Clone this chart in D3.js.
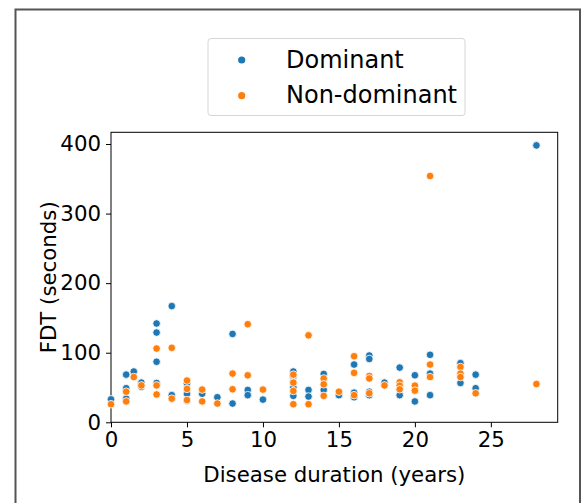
<!DOCTYPE html>
<html>
<head>
<meta charset="utf-8">
<script src="https://cdn.jsdelivr.net/npm/d3@7"></script>
<style>
  html, body { margin: 0; padding: 0; background: #fff; }
  svg { display: block; font-family: "DejaVu Sans", sans-serif; }
</style>
</head>
<body>
<svg id="chart" width="584" height="503"></svg>
<script>
// Disease duration (years) and FDT (seconds) per group
const dominantYears = [0, 1, 1, 1, 1.5, 2, 2, 3, 3, 3, 3, 4, 4, 5, 5, 5, 6, 7, 8, 8, 9, 9, 10,
  12, 12, 12, 12, 12, 13, 13, 14, 14, 15, 16, 16, 16, 17, 17, 17, 17, 18, 19, 19,
  20, 20, 21, 21, 21, 23, 23, 24, 24, 28];
const dominantFDT = [33, 68.5, 49, 34, 73, 57, 51, 142, 129, 87, 56.5, 167, 39, 56, 41, 31, 41, 36, 127, 27, 46.5, 39, 32.6,
  73, 66, 58, 50, 38, 46.5, 37, 69.5, 46.5, 39, 83, 42.6, 36, 96, 91, 44, 39, 57, 78.6, 39,
  67.6, 30, 97, 70, 39, 85, 56.5, 68.5, 49, 398];

const nonDominantYears = [0, 1, 1, 1.5, 2, 3, 3, 3, 4, 4, 5, 5, 5, 6, 6, 7, 8, 8, 9, 9, 10,
  12, 12, 12, 12, 13, 13, 14, 14, 14, 15, 16, 16, 16, 17, 17, 17, 18, 19, 19, 19,
  20, 20, 21, 21, 21, 23, 23, 23, 24, 28];
const nonDominantFDT = [26, 44, 30, 65, 53, 106, 53, 40, 107, 34, 60, 48, 32, 47, 30, 27, 70, 47.5, 141, 67.5, 47,
  68.5, 57, 45, 26, 125, 26, 63, 54.6, 38, 44, 95, 71, 39, 66.6, 63, 41.7, 53, 57.5, 52.7, 47.4,
  52.7, 45.5, 354, 83, 65, 79.5, 70, 65, 41.7, 55];

const groups = ["Dominant", "Non-dominant"];
const groupColors = ["#1f77b4", "#ff7f0e"];
const xTicks = [0, 5, 10, 15, 20, 25];
const yTicks = [0, 100, 200, 300, 400];

const svg = d3.select("#chart");
const fontSize = 21.3;

// outer figure frame
svg.append("rect")
  .attr("x", 15.5).attr("y", 9.5)
  .attr("width", 564.5).attr("height", 520)
  .attr("fill", "none").attr("stroke", "#555").attr("stroke-width", 2);

const plot = { left: 111, right: 557.7, top: 132.3, bottom: 422.3 };

const x = d3.scaleLinear().domain([0, 29.4]).range([plot.left, plot.right]);
const y = d3.scaleLinear().domain([0, 416.8]).range([plot.bottom, plot.top]);

// axes
const xAxis = svg.append("g")
  .attr("transform", `translate(0,${plot.bottom})`)
  .call(d3.axisBottom(x).tickValues(xTicks).tickFormat(d3.format("d")).tickSize(5).tickPadding(5));
const yAxis = svg.append("g")
  .attr("transform", `translate(${plot.left},0)`)
  .call(d3.axisLeft(y).tickValues(yTicks).tickFormat(d3.format("d")).tickSize(5).tickPadding(5));
[xAxis, yAxis].forEach(g => {
  g.select(".domain").remove();
  g.selectAll(".tick line").attr("stroke", "#000").attr("stroke-width", 1);
  g.selectAll(".tick text")
    .attr("fill", "#000")
    .style("font-family", "'DejaVu Sans', sans-serif")
    .style("font-size", fontSize + "px");
});

// plot frame
svg.append("rect")
  .attr("x", plot.left).attr("y", plot.top)
  .attr("width", plot.right - plot.left).attr("height", plot.bottom - plot.top)
  .attr("fill", "none").attr("stroke", "#000").attr("stroke-width", 1);

// points
const series = [
  { name: groups[0], color: groupColors[0], xs: dominantYears, ys: dominantFDT },
  { name: groups[1], color: groupColors[1], xs: nonDominantYears, ys: nonDominantFDT }
];
const pts = svg.append("g");
series.forEach(s => {
  pts.selectAll(null)
    .data(s.xs.map((d, i) => [d, s.ys[i]]))
    .join("circle")
    .attr("cx", d => x(d[0]))
    .attr("cy", d => y(d[1]))
    .attr("r", 3.8)
    .attr("fill", s.color)
    .attr("stroke", "#fff")
    .attr("stroke-width", 0.8);
});

// axis titles
svg.append("text")
  .attr("x", (plot.left + plot.right) / 2).attr("y", 482)
  .attr("text-anchor", "middle")
  .style("font-size", fontSize + "px")
  .text("Disease duration (years)");
svg.append("text")
  .attr("transform", `translate(56,${(plot.top + plot.bottom) / 2}) rotate(-90)`)
  .attr("text-anchor", "middle")
  .style("font-size", fontSize + "px")
  .text("FDT (seconds)");

// legend
const legend = svg.append("g");
legend.append("rect")
  .attr("x", 208).attr("y", 38.5)
  .attr("width", 257).attr("height", 77)
  .attr("rx", 3)
  .attr("fill", "#fff").attr("stroke", "#d6d6d6").attr("stroke-width", 1);
const legendRows = [60, 95.7];
groups.forEach((g, i) => {
  legend.append("circle")
    .attr("cx", 241.7).attr("cy", legendRows[i]).attr("r", 3.6)
    .attr("fill", groupColors[i]);
  legend.append("text")
    .attr("x", 286).attr("y", legendRows[i] + 7.5)
    .style("font-size", "24px")
    .text(g);
});
</script>
</body>
</html>
